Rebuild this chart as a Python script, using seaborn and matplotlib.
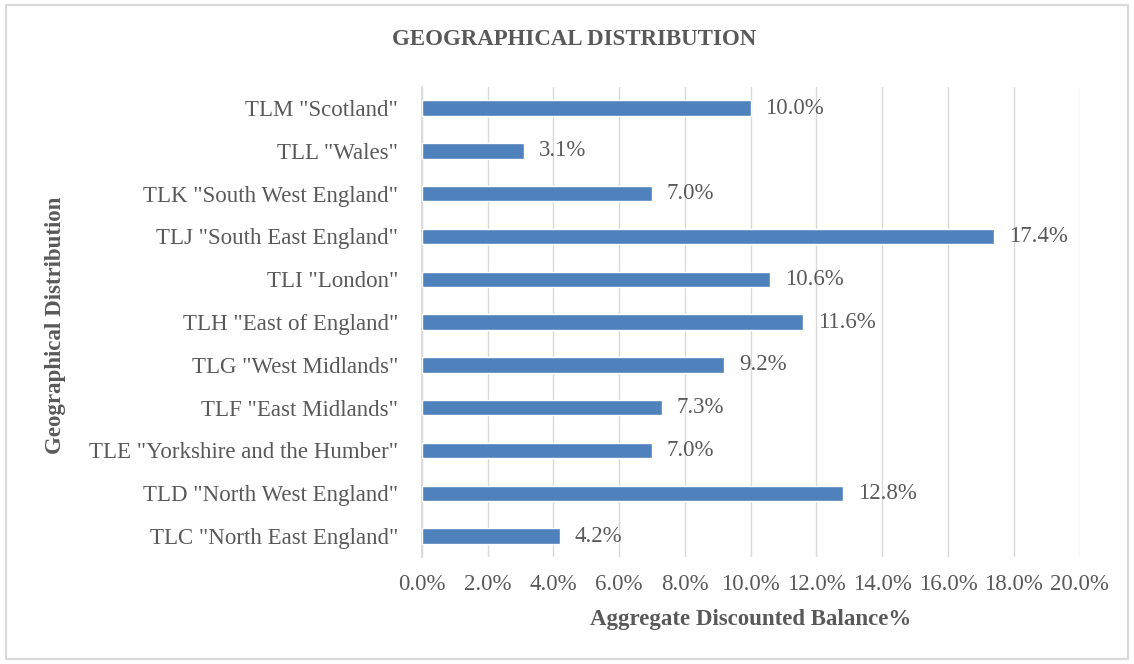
import numpy as np
import pandas as pd
import matplotlib
matplotlib.use('Agg')
import matplotlib.pyplot as plt
import seaborn as sns
from matplotlib.patches import Rectangle

# ── data ─────────────────────────────────────────────────────────────────────
regions = [
    'TLM "Scotland"', 'TLL "Wales"', 'TLK "South West England"',
    'TLJ "South East England"', 'TLI "London"', 'TLH "East of England"',
    'TLG "West Midlands"', 'TLF "East Midlands"',
    'TLE "Yorkshire and the Humber"', 'TLD "North West England"',
    'TLC "North East England"',
]
shares = [10.0, 3.1, 7.0, 17.4, 10.6, 11.6, 9.2, 7.3, 7.0, 12.8, 4.2]
x_ticks = [0, 2, 4, 6, 8, 10, 12, 14, 16, 18, 20]

df = pd.DataFrame({'region': regions, 'share': shares})

# ── style ────────────────────────────────────────────────────────────────────
sns.set_theme(style='white')
plt.rcParams['font.family'] = ['Liberation Serif', 'DejaVu Serif']
TXT = '#595959'
GRID = '#D9D9D9'
BAR = '#4F81BD'
FS = 16.5

fig = plt.figure(figsize=(11.34, 6.64), dpi=100)
ax = fig.add_axes([0.372, 0.1605, 0.58, 0.709])

sns.barplot(data=df, x='share', y='region', color=BAR, width=0.36,
            saturation=1, ax=ax, zorder=3)

ax.set_xlim(0, 20)
ax.set_xticks(x_ticks)
ax.set_xticklabels([f'{t:.1f}%' for t in x_ticks], fontsize=FS, color=TXT)
ax.tick_params(axis='y', labelsize=FS, labelcolor=TXT, length=0, pad=17)
ax.tick_params(axis='x', length=0, pad=12)
ax.set_yticks(np.arange(len(regions) + 1) - 0.5, minor=True)
ax.tick_params(axis='y', which='minor', length=5, color=GRID, width=1)
ax.xaxis.grid(True, color=GRID, linewidth=1, zorder=0)
ax.set_axisbelow(True)
for s in ['top', 'right', 'bottom']:
    ax.spines[s].set_visible(False)
ax.spines['left'].set_color(GRID)

for i, v in enumerate(shares):
    ax.text(v + 0.45, i, f'{v:.1f}%', va='center', ha='left',
            fontsize=FS, color=TXT)

ax.set_xlabel('Aggregate Discounted Balance%', fontsize=FS, fontweight='bold',
              color=TXT, labelpad=10)
ax.set_ylabel('')
fig.text(0.049, 0.51, 'Geographical Distribution', rotation=90, ha='center',
         va='center', fontsize=FS, fontweight='bold', color=TXT)
fig.text(0.506, 0.94, 'GEOGRAPHICAL DISTRIBUTION', ha='center', va='center',
         fontsize=FS, fontweight='bold', color=TXT)

fig.patches.append(Rectangle((0.005, 0.008), 0.99, 0.984, transform=fig.transFigure,
                             fill=False, edgecolor=GRID, linewidth=1.5))

fig.savefig('out.png', dpi=100)
